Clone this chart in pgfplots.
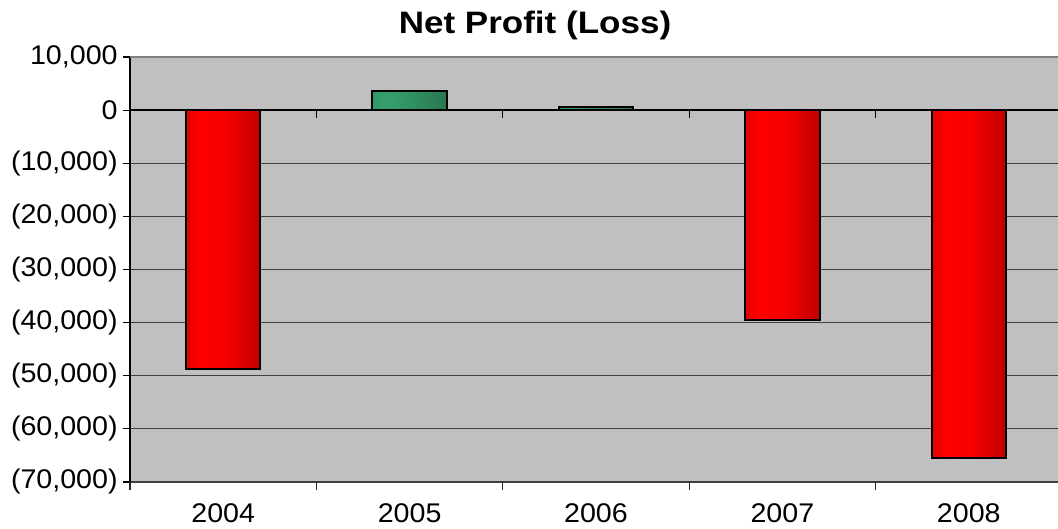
\documentclass[border=0pt]{standalone}
\usepackage{pgfplots}
\pgfplotsset{compat=1.18}
\usepackage{fontspec}
\setmainfont[FakeStretch=1.06]{Liberation Sans}
\newfontfamily\titlefont[FakeStretch=1.13]{Liberation Sans}
\definecolor{bgGray}{HTML}{C0C0C0}
\pgfdeclarehorizontalshading{redbar}{100bp}{color(0bp)=(rgb,255:red,228;green,0;blue,0); color(25bp)=(rgb,255:red,228;green,0;blue,0); color(34bp)=(rgb,255:red,255;green,0;blue,0); color(52bp)=(rgb,255:red,245;green,0;blue,0); color(75bp)=(rgb,255:red,192;green,0;blue,0); color(100bp)=(rgb,255:red,192;green,0;blue,0)}
\pgfdeclarehorizontalshading{grnbar}{100bp}{color(0bp)=(rgb,255:red,50;green,150;blue,100); color(25bp)=(rgb,255:red,50;green,150;blue,100); color(34bp)=(rgb,255:red,54;green,160;blue,108); color(52bp)=(rgb,255:red,48;green,145;blue,96); color(75bp)=(rgb,255:red,42;green,118;blue,80); color(100bp)=(rgb,255:red,42;green,118;blue,80)}
\begin{document}
\begin{tikzpicture}
\begin{axis}[
  at={(0,0)}, anchor=south west,
  scale only axis,
  width=466pt, height=212.5pt,
  xmin=-0.5, xmax=4.5,
  ymin=-70000, ymax=10000,
  scaled y ticks=false,
  axis background/.style={fill=bgGray},
  axis x line*=bottom, axis y line*=left,
  x axis line style={draw=black!75, line width=0.9pt},
  y axis line style={draw=black, line width=0.6pt},
  xtick={0,1,2,3,4},
  xticklabels={2004,2005,2006,2007,2008},
  major x tick style={draw=none},
  extra x ticks={-0.5,0.5,1.5,2.5,3.5},
  extra x tick labels={},
  extra x tick style={grid=none, major tick length=4pt, major x tick style={draw=black!85, line width=0.6pt}},
  xticklabel style={font=\fontsize{13.5}{16}\selectfont, anchor=base, yshift=-17pt},
  ytick={-70000,-60000,-50000,-40000,-30000,-20000,-10000,0,10000},
  yticklabels={{(70,000)},{(60,000)},{(50,000)},{(40,000)},{(30,000)},{(20,000)},{(10,000)},{0},{10,000}},
  yticklabel style={font=\fontsize{13.5}{16}\selectfont, anchor=east, inner sep=0pt, xshift=-2.5pt},
  tick align=outside,
  major tick length=3.5pt,
  y tick style={draw=black, line width=0.6pt},
  ymajorgrids,
  major grid style={draw=black!75, line width=0.6pt},
  ybar, bar width=0.4, bar shift=0pt,
  clip=false,
]
\draw[black, line width=0.7pt] (axis cs:-0.5,0) -- (axis cs:4.5,0);
\pgfplotsinvokeforeach{0.5,1.5,2.5,3.5}{\draw[black, line width=0.6pt] (axis cs:#1,0) -- ++(0pt,-4pt);}
\addplot[draw=black, line width=1pt, shading=redbar] coordinates {(0,-48800)};
\addplot[draw=black, line width=1pt, shading=grnbar] coordinates {(1,3650)};
\addplot[draw=black, line width=1pt, shading=grnbar] coordinates {(2,500)};
\addplot[draw=black, line width=1pt, shading=redbar] coordinates {(3,-39600)};
\addplot[draw=black, line width=1pt, shading=redbar] coordinates {(4,-65500)};
\draw[black!50, line width=1pt] (rel axis cs:0,1) -- (rel axis cs:1,1);
\end{axis}
\node[anchor=base, font=\titlefont\bfseries\fontsize{15.5}{18}\selectfont] at (202.5pt,224pt) {Net Profit (Loss)};
\pgfresetboundingbox
\path (-65pt,-23.5pt) rectangle (464pt,241pt);
\end{tikzpicture}
\end{document}
